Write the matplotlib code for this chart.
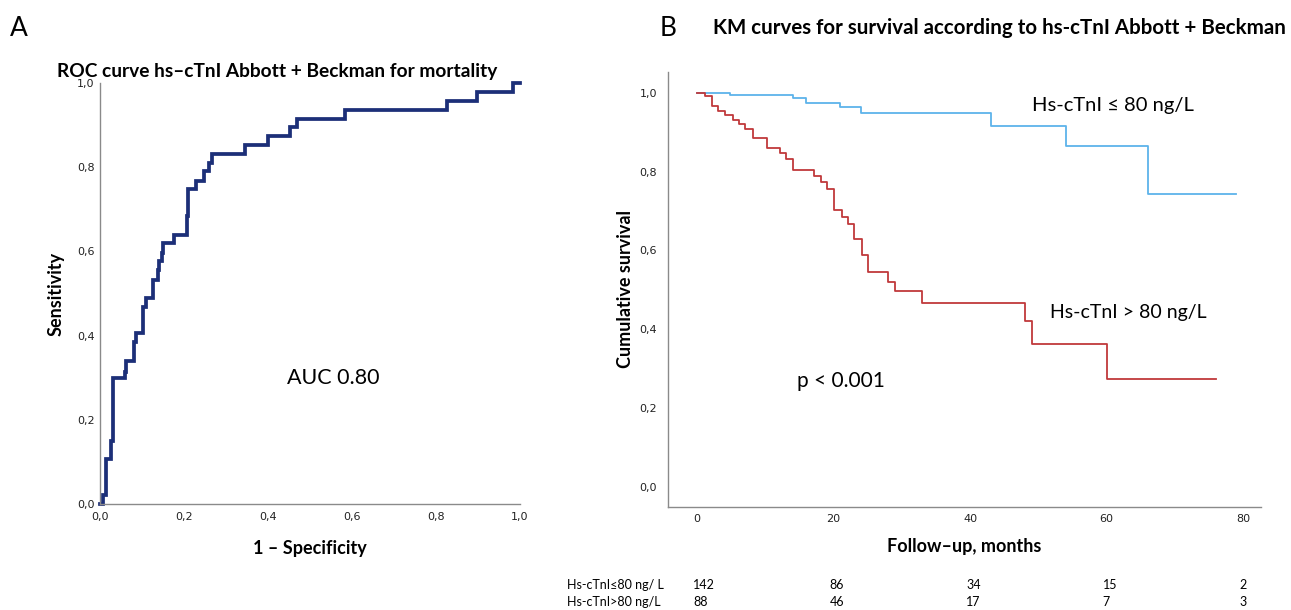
import matplotlib
matplotlib.use("Agg")
import matplotlib.pyplot as plt
import matplotlib.transforms as mtransforms
from matplotlib.ticker import FuncFormatter

# ---------------- data ----------------
# Panel A: ROC curve vertices (1 - specificity, sensitivity)
roc_fpr = [0.0, 0.008, 0.014, 0.025, 0.032, 0.060, 0.063, 0.081, 0.086, 0.103,
           0.109, 0.125, 0.137, 0.141, 0.147, 0.151, 0.175, 0.206, 0.210, 0.229,
           0.248, 0.260, 0.266, 0.345, 0.400, 0.452, 0.468, 0.583, 0.825, 0.898,
           0.984, 1.0]
roc_tpr = [0.0, 0.022, 0.107, 0.150, 0.300, 0.313, 0.340, 0.385, 0.405, 0.468,
           0.490, 0.533, 0.556, 0.577, 0.597, 0.619, 0.640, 0.683, 0.748, 0.767,
           0.790, 0.811, 0.832, 0.852, 0.873, 0.895, 0.915, 0.937, 0.958, 0.979,
           1.0, 1.0]
auc_label = "AUC 0.80"

# Panel B: Kaplan-Meier curves
low_time = [0, 4.9, 14.0, 15.9, 21.0, 24.0, 43.0, 54.1, 66.0, 78.9]
low_surv = [1.0, 0.994, 0.986, 0.975, 0.963, 0.948, 0.915, 0.865, 0.743, 0.743]

high_time = [0, 1.2, 2.15, 3.1, 4.1, 5.2, 6.2, 7.1, 8.15, 10.2, 12.15, 13.1, 14.1,
             17.1, 18.1, 19.1, 20.1, 21.2, 22.1, 23.0, 24.1, 25.0, 28.0, 29.0,
             33.0, 48.0, 49.0, 60.0, 76.0]
high_surv = [1.0, 0.991, 0.967, 0.955, 0.944, 0.931, 0.920, 0.908, 0.885, 0.860,
             0.847, 0.832, 0.805, 0.789, 0.773, 0.756, 0.703, 0.686, 0.667, 0.629,
             0.589, 0.546, 0.520, 0.497, 0.467, 0.420, 0.362, 0.273, 0.273]

risk_times = [0, 20, 40, 60, 80]
risk_low = [142, 86, 34, 15, 2]
risk_high = [88, 46, 17, 7, 3]
risk_labels = ["Hs-cTnI≤80 ng/ L", "Hs-cTnI>80 ng/L"]
group_labels = ["Hs-cTnI ≤ 80 ng/L", "Hs-cTnI > 80 ng/L"]

# ---------------- figure ----------------
W, H = 1291, 610
fig = plt.figure(figsize=(W / 100, H / 100), dpi=100)
fig.patch.set_facecolor("white")

ANN = "Lato"
TICKF = "DejaVu Sans"
comma = FuncFormatter(lambda v, p: f"{v:.1f}".replace(".", ","))
spine_col = "#8a8a8a"


def style_axes(ax):
    for s in ("top", "right"):
        ax.spines[s].set_visible(False)
    for s in ("left", "bottom"):
        ax.spines[s].set_color(spine_col)
        ax.spines[s].set_linewidth(1.0)
    ax.tick_params(length=0, labelsize=8, colors="#222222", pad=6)
    for lab in ax.get_xticklabels() + ax.get_yticklabels():
        lab.set_fontfamily(TICKF)


# ---- Panel A ----
axA = fig.add_axes([100 / W, 1 - 504 / H, 420 / W, 421 / H])
axA.plot(roc_fpr, roc_tpr, drawstyle="steps-post", color="#1c2f78", lw=2.7,
         clip_on=False, solid_joinstyle="miter")
axA.set_xlim(0, 1)
axA.set_ylim(0, 1)
axA.set_xticks([0, 0.2, 0.4, 0.6, 0.8, 1.0])
axA.set_yticks([0, 0.2, 0.4, 0.6, 0.8, 1.0])
axA.xaxis.set_major_formatter(comma)
axA.yaxis.set_major_formatter(comma)
style_axes(axA)
axA.tick_params(axis="x", pad=6)
axA.tick_params(axis="y", pad=4)
axA.set_xlabel("1 – Specificity", fontfamily=ANN, fontweight="bold", fontsize=13, labelpad=13)
axA.set_ylabel("Sensitivity", fontfamily=ANN, fontweight="bold", fontsize=13, labelpad=9)
axA.text(0.445, 0.30, auc_label, transform=axA.transAxes, fontfamily=ANN,
         fontsize=15.5, ha="left", va="center")

fig.text(277 / W, 1 - 71 / H, "ROC curve hs–cTnI Abbott + Beckman for mortality",
         fontfamily=ANN, fontweight="bold", fontsize=13.8, ha="center", va="center")
fig.text(10 / W, 1 - 28 / H, "A", fontfamily=ANN, fontsize=19, ha="left", va="center")

# ---- Panel B ----
axB = fig.add_axes([668 / W, 1 - 507 / H, 593 / W, 435 / H])
axB.plot(low_time, low_surv, drawstyle="steps-post", color="#5db3ea", lw=1.3)
axB.plot(high_time, high_surv, drawstyle="steps-post", color="#c0393b", lw=1.3)
axB.set_xlim(-4.25, 82.6)
axB.set_ylim(-0.051, 1.053)
axB.set_xticks(risk_times)
axB.set_yticks([0, 0.2, 0.4, 0.6, 0.8, 1.0])
axB.yaxis.set_major_formatter(comma)
style_axes(axB)
axB.tick_params(axis="x", pad=5)
axB.tick_params(axis="y", pad=8)
axB.set_xlabel("Follow–up, months", fontfamily=ANN, fontweight="bold", fontsize=13, labelpad=10)
axB.set_ylabel("Cumulative survival", fontfamily=ANN, fontweight="bold", fontsize=13, labelpad=4)

fig.text(1032 / W, 1 - 105 / H, group_labels[0], fontfamily=ANN, fontsize=14.5,
         ha="left", va="center")
fig.text(1050 / W, 1 - 313 / H, group_labels[1], fontfamily=ANN, fontsize=14,
         ha="left", va="center")
fig.text(797 / W, 1 - 381 / H, "p < 0.001", fontfamily=ANN, fontsize=15,
         ha="left", va="center")

fig.text(713 / W, 1 - 28 / H, "KM curves for survival according to hs-cTnI Abbott + Beckman",
         fontfamily=ANN, fontweight="bold", fontsize=14.8, ha="left", va="center")
fig.text(660 / W, 1 - 28 / H, "B", fontfamily=ANN, fontsize=19, ha="left", va="center")

# number at risk table
blend = mtransforms.blended_transform_factory(axB.transData, fig.transFigure)
off = mtransforms.offset_copy(blend, fig=fig, x=-4, y=0, units="dots")
rows_y = [1 - 585 / H, 1 - 602 / H]
for ry, lab, vals in zip(rows_y, risk_labels, [risk_low, risk_high]):
    fig.text(567 / W, ry, lab, fontfamily=ANN, fontsize=9, ha="left", va="center")
    for t, v in zip(risk_times, vals):
        fig.text(t, ry, str(v), transform=off, fontfamily=ANN, fontsize=9,
                 ha="left", va="center")

fig.savefig("out.png", dpi=100, facecolor="white")
